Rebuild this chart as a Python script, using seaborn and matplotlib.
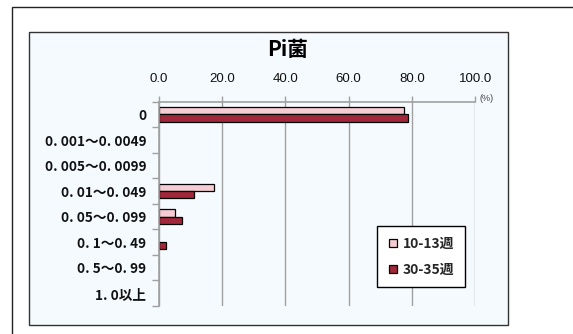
import matplotlib
matplotlib.use("Agg")
import matplotlib.pyplot as plt
from matplotlib.patches import Rectangle
from matplotlib.ticker import FixedLocator
import pandas as pd
import seaborn as sns

# Data
categories = ["0", "0.001～0.0049", "0.005～0.0099", "0.01～0.049",
              "0.05～0.099", "0.1～0.49", "0.5～0.99", "1.0以上"]
cat_labels = ["0", "0. 001～0. 0049", "0. 005～0. 0099", "0. 01～0. 049",
              "0. 05～0. 099", "0. 1～0. 49", "0. 5～0. 99", "1. 0以上"]
series_names = ["10-13週", "30-35週"]
week_10_13 = [77.5, 0.0, 0.0, 17.4, 5.0, 0.0, 0.0, 0.0]
week_30_35 = [78.9, 0.0, 0.0, 11.2, 7.5, 2.4, 0.0, 0.0]
x_ticks = [0, 20, 40, 60, 80, 100]

df = pd.DataFrame({
    "category": categories * 2,
    "value": week_10_13 + week_30_35,
    "series": [series_names[0]] * len(categories) + [series_names[1]] * len(categories),
})

sns.set_theme(style="white")
plt.rcParams["font.family"] = ["Noto Sans CJK JP", "DejaVu Sans"]
cjk = ["Noto Sans CJK JP", "DejaVu Sans"]

W, H = 573, 334
fig = plt.figure(figsize=(W / 100, H / 100), dpi=100)
fig.patch.set_facecolor("white")

def fx(px):
    return px / W

def fy(py):
    return 1 - py / H

# outer frame and inner chart area
fig.add_artist(Rectangle((fx(12), fy(334 + 5)), fx(573 + 5 - 12), (339 - 7) / H,
                         transform=fig.transFigure, facecolor="white",
                         edgecolor="#222222", linewidth=1.0, zorder=0))
fig.add_artist(Rectangle((fx(29), fy(325)), fx(508 - 29), (325 - 32) / H,
                         transform=fig.transFigure, facecolor="#F5FAFE",
                         edgecolor="#333333", linewidth=1.0, zorder=0))

ax = fig.add_axes([fx(158.7), fy(306), fx(475.3 - 158.7), (306 - 101.7) / H])
ax.set_facecolor("none")

palette = {series_names[0]: "#F5CCD3", series_names[1]: "#A1283A"}
sns.barplot(data=df, y="category", x="value", hue="series", order=categories,
            hue_order=series_names, palette=palette, orient="h", width=0.56,
            edgecolor="black", linewidth=0.9, saturation=1, ax=ax)

# empty bars leave no mark
for p in ax.patches:
    if p.get_width() == 0:
        p.set_visible(False)

ax.set_xlim(0, 100)
ax.set_ylim(len(categories) - 0.5, -0.5)
ax.set_xlabel("")
ax.set_ylabel("")

# x axis on top
ax.xaxis.tick_top()
ax.set_xticks(x_ticks)
ax.set_xticklabels([f"{v:.1f}" for v in x_ticks], fontsize=9.5,
                   family=["Liberation Sans", "DejaVu Sans"], color="#111111")
ax.tick_params(axis="x", which="major", direction="out", length=4, width=1,
               color="#A0A0A0", pad=8)
ax.grid(axis="x", color="#A0A0A0", linewidth=1.0)
ax.set_axisbelow(True)

# y axis labels with category-boundary ticks
ax.set_yticks(range(len(categories)))
ax.set_yticklabels(cat_labels, fontsize=9.8, fontweight="bold", color="#111111",
                   family=cjk)
ax.tick_params(axis="y", which="major", length=0, pad=9)
ax.yaxis.set_minor_locator(FixedLocator([i - 0.5 for i in range(len(categories) + 1)]))
ax.tick_params(axis="y", which="minor", direction="out", length=5, width=1,
               color="#A0A0A0", left=True)

for side in ["right", "bottom"]:
    ax.spines[side].set_visible(False)
for side in ["left", "top"]:
    ax.spines[side].set_color("#A0A0A0")
    ax.spines[side].set_linewidth(1.2)

# title and unit
fig.text(fx(288), fy(49), "Pi菌", ha="center", va="center", fontsize=15,
         fontweight="bold", color="black")
fig.text(fx(487), fy(99), "(%)", ha="center", va="center", fontsize=6.5,
         family=["Liberation Sans", "DejaVu Sans"], color="#444444")

# legend
handles = [plt.Line2D([], [], marker="s", linestyle="none", markersize=6,
                      markerfacecolor=palette[n], markeredgecolor="black",
                      markeredgewidth=0.9) for n in series_names]
ax.legend(handles, series_names, loc="upper left",
          bbox_to_anchor=(fx(377), fy(226)), bbox_transform=fig.transFigure,
          frameon=True, fancybox=False, edgecolor="black", facecolor="white",
          framealpha=1, prop={"family": cjk, "size": 10, "weight": "bold"},
          handletextpad=0.3, handlelength=0.8, labelspacing=0.9,
          borderpad=0.75, borderaxespad=0)
ax.get_legend().get_frame().set_linewidth(1.0)

fig.savefig("out.png", dpi=100)
